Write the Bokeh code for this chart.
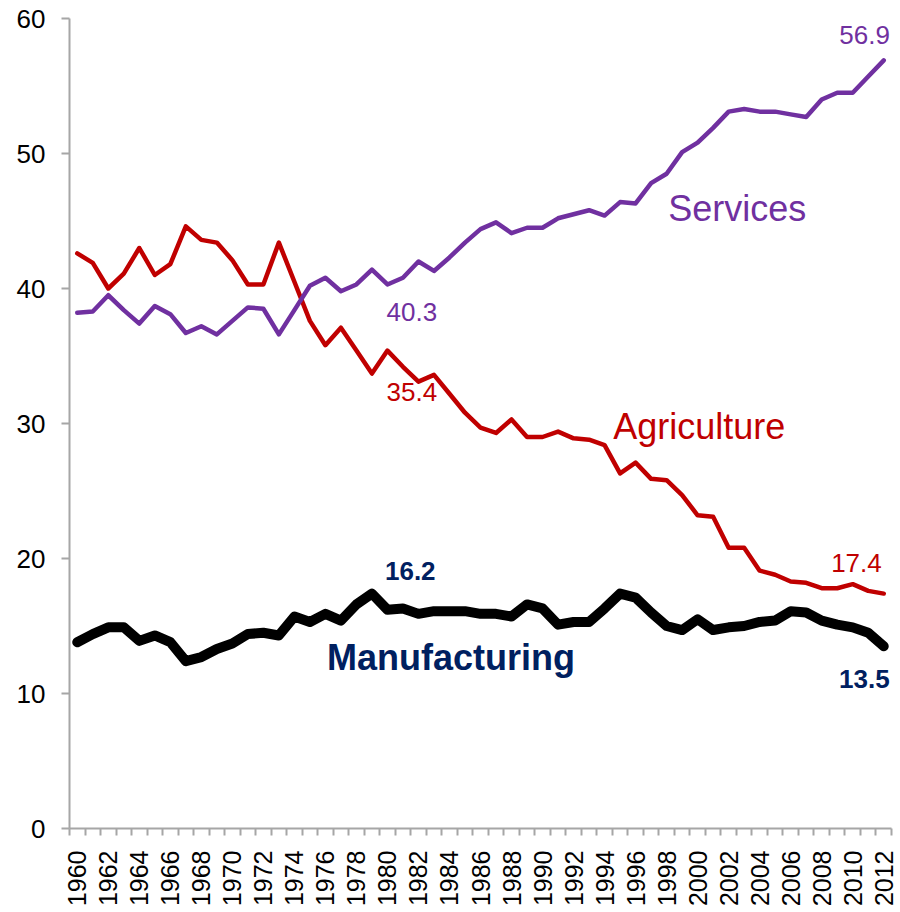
import math
from bokeh.plotting import figure
from bokeh.models import ColumnDataSource, FixedTicker, Range1d, Label
from bokeh.embed import file_html
from bokeh.resources import INLINE

years = list(range(1960, 2013))

agriculture = [42.6, 41.9, 40.0, 41.1, 43.0, 41.0, 41.8, 44.6, 43.6, 43.4,
               42.1, 40.3, 40.3, 43.4, 40.5, 37.6, 35.8, 37.1, 35.4, 33.7,
               35.4, 34.2, 33.1, 33.6, 32.2, 30.8, 29.7, 29.3, 30.3, 29.0,
               29.0, 29.4, 28.9, 28.8, 28.4, 26.3, 27.1, 25.9, 25.8, 24.7,
               23.2, 23.1, 20.8, 20.8, 19.1, 18.8, 18.3, 18.2, 17.8, 17.8,
               18.1, 17.6, 17.4]

services = [38.2, 38.3, 39.5, 38.4, 37.4, 38.7, 38.1, 36.7, 37.2, 36.6,
            37.6, 38.6, 38.5, 36.6, 38.4, 40.2, 40.8, 39.8, 40.3, 41.4,
            40.3, 40.8, 42.0, 41.3, 42.3, 43.4, 44.4, 44.9, 44.1, 44.5,
            44.5, 45.2, 45.5, 45.8, 45.4, 46.4, 46.3, 47.8, 48.5, 50.1,
            50.8, 51.9, 53.1, 53.3, 53.1, 53.1, 52.9, 52.7, 54.0, 54.5,
            54.5, 55.7, 56.9]

manufacturing = [13.8, 14.4, 14.9, 14.9, 13.9, 14.3, 13.8, 12.4, 12.7, 13.3,
                 13.7, 14.4, 14.5, 14.3, 15.7, 15.3, 15.9, 15.4, 16.6, 17.4,
                 16.2, 16.3, 15.9, 16.1, 16.1, 16.1, 15.9, 15.9, 15.7, 16.6,
                 16.3, 15.1, 15.3, 15.3, 16.3, 17.4, 17.1, 16.0, 15.0, 14.7,
                 15.5, 14.7, 14.9, 15.0, 15.3, 15.4, 16.1, 16.0, 15.4, 15.1,
                 14.9, 14.5, 13.5]

y_ticks = [0, 10, 20, 30, 40, 50, 60]
x_label_years = list(range(1960, 2013, 2))

# annotation texts: (text, x, y, colour, size, bold, align)
annotations = [
    ("56.9", 2012.4, 58.8, "#7030A0", "26px", False, "right"),
    ("Services", 1998.1, 45.9, "#7030A0", "36px", False, "left"),
    ("40.3", 1979.94, 38.25, "#7030A0", "26px", False, "left"),
    ("35.4", 1979.94, 32.3, "#C00000", "26px", False, "left"),
    ("Agriculture", 1994.56, 29.75, "#C00000", "36px", False, "left"),
    ("17.4", 2011.87, 19.7, "#C00000", "26px", False, "right"),
    ("16.2", 1979.84, 19.1, "#002060", "26px", True, "left"),
    ("Manufacturing", 1976.1, 12.65, "#002060", "36px", True, "left"),
    ("13.5", 2012.38, 11.05, "#002060", "26px", True, "right"),
]

src = ColumnDataSource(dict(year=years, agr=agriculture, ser=services, man=manufacturing))

p = figure(width=900, height=912, output_backend="svg", toolbar_location=None,
           x_range=Range1d(1959.5, 2012.5), y_range=Range1d(0, 60),
           min_border_left=69, min_border_right=9, min_border_top=18,
           min_border_bottom=84)
p.outline_line_color = None
p.xgrid.visible = False
p.ygrid.visible = False
p.background_fill_color = "white"
p.border_fill_color = "white"

p.line("year", "agr", source=src, line_color="#C00000", line_width=4.5,
       line_join="round", line_cap="round")
p.line("year", "ser", source=src, line_color="#7030A0", line_width=4.5,
       line_join="round", line_cap="round")
p.line("year", "man", source=src, line_color="#000000", line_width=10,
       line_join="round", line_cap="round")

axis_color = "#A6A6A6"
font = "Liberation Sans"

xa = p.xaxis[0]
xa.ticker = FixedTicker(ticks=x_label_years,
                        minor_ticks=[y - 0.5 for y in years] + [2012.5])
xa.axis_line_color = axis_color
xa.axis_line_width = 2
xa.major_tick_line_color = None
xa.major_tick_out = 0
xa.major_tick_in = 0
xa.minor_tick_line_color = axis_color
xa.minor_tick_line_width = 2
xa.minor_tick_out = 7
xa.minor_tick_in = 0
xa.major_label_orientation = math.pi / 2
xa.major_label_standoff = 15
xa.major_label_text_font = font
xa.major_label_text_font_size = "25px"
xa.major_label_text_color = "black"

ya = p.yaxis[0]
ya.ticker = FixedTicker(ticks=y_ticks)
ya.axis_line_color = axis_color
ya.axis_line_width = 2
ya.major_tick_line_color = axis_color
ya.major_tick_line_width = 2
ya.major_tick_out = 8
ya.major_tick_in = 0
ya.minor_tick_line_color = None
ya.major_label_standoff = 16
ya.major_label_text_font = font
ya.major_label_text_font_size = "26px"
ya.major_label_text_color = "black"

for text, x, y, col, size, bold, align in annotations:
    p.add_layout(Label(x=x, y=y, text=text, text_color=col, text_font=font,
                       text_font_size=size,
                       text_font_style="bold" if bold else "normal",
                       text_align=align, text_baseline="alphabetic"))

open("out.html", "w").write(file_html(p, INLINE))
